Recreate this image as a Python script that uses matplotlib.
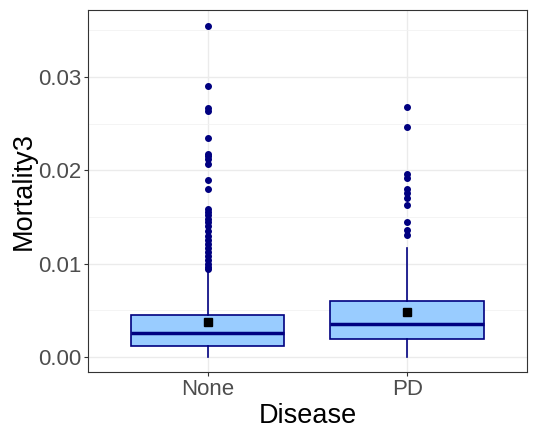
import numpy as np
import matplotlib.pyplot as plt

plt.rcParams['font.family'] = ['Liberation Sans', 'DejaVu Sans']

# Summary statistics
categories = ['None', 'PD']
q1 = [0.00118, 0.0019]
median = [0.00255, 0.0035]
q3 = [0.0045, 0.0060]
whisker_low = [0.0, 0.0]
whisker_high = [0.0093, 0.0117]
means = [0.00375, 0.0048]
outliers_none = [0.0355, 0.0290, 0.0267, 0.0264, 0.0235, 0.0218, 0.0215, 0.0212,
                 0.0207, 0.0190, 0.0180, 0.0159, 0.0155, 0.0152, 0.0148, 0.0145,
                 0.0140, 0.0135, 0.0130, 0.0125, 0.0121, 0.0117, 0.0113, 0.0108,
                 0.0104, 0.0100, 0.0097, 0.0094]
outliers_pd = [0.0268, 0.0246, 0.0196, 0.0192, 0.0180, 0.0176, 0.0170, 0.0163,
               0.0145, 0.0136, 0.0131]

stats = []
for i, name in enumerate(categories):
    stats.append({
        'label': name,
        'q1': q1[i], 'med': median[i], 'q3': q3[i],
        'whislo': whisker_low[i], 'whishi': whisker_high[i],
        'mean': means[i],
        'fliers': [outliers_none, outliers_pd][i],
    })

navy = '#000080'
fig = plt.figure(figsize=(5.37, 4.3), dpi=100)
ax = fig.add_axes([0.164, 0.135, 0.817, 0.842])

ax.set_axisbelow(True)
ax.grid(True, which='major', color='#ebebeb', linewidth=1.0)
ax.grid(True, which='minor', axis='y', color='#f2f2f2', linewidth=0.6)
ax.set_yticks([0.005, 0.015, 0.025, 0.035], minor=True)
ax.tick_params(axis='y', which='minor', length=0)

ax.bxp(stats, positions=[1, 2], widths=0.77, patch_artist=True,
       showmeans=True, showcaps=False,
       boxprops=dict(facecolor='#99ccff', edgecolor=navy, linewidth=1.2),
       medianprops=dict(color=navy, linewidth=2.5),
       whiskerprops=dict(color=navy, linewidth=1.2),
       flierprops=dict(marker='o', markerfacecolor=navy, markeredgecolor=navy,
                       markersize=4),
       meanprops=dict(marker='s', markerfacecolor='black', markeredgecolor='black',
                      markersize=5.5))

ax.set_xlim(0.4, 2.6)
ax.set_ylim(-0.0016, 0.0372)
ax.set_yticks([0.0, 0.01, 0.02, 0.03])
ax.set_yticklabels(['0.00', '0.01', '0.02', '0.03'])
ax.set_xticks([1, 2])
ax.set_xticklabels(categories)

for s in ax.spines.values():
    s.set_color('#333333')
    s.set_linewidth(0.8)
ax.tick_params(axis='both', which='major', labelsize=16, labelcolor='#4d4d4d',
               color='#333333', length=3, pad=2)

ax.set_xlabel('Disease', fontsize=19.5, labelpad=2)
ax.set_ylabel('Mortality3', fontsize=19.5, labelpad=1)

plt.savefig('out.png', dpi=100)
